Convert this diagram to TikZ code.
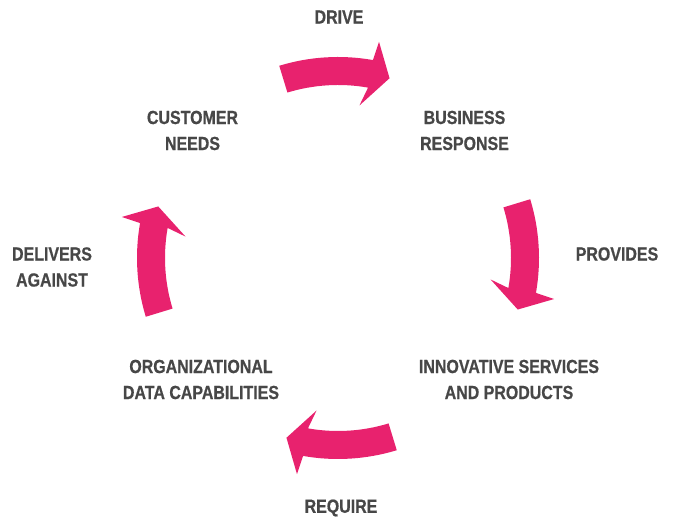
\documentclass[tikz,border=0pt]{standalone}
\usepackage{fontspec}
\newfontfamily\labelfont{Liberation Sans}[FakeStretch=0.84, FakeBold=0.6]
\definecolor{ringpink}{HTML}{E8226E}
\definecolor{labelgray}{HTML}{474747}

% one bent arrow on the ring, running clockwise from angle #1
\newcommand{\ringarrow}[1]{%
  \fill[ringpink] (#1:201) arc[start angle=#1, end angle={#1-27}, radius=201]
    -- ({#1-27.75}:220) -- ({#1-33}:187) -- ({#1-25}:154)
    -- ({#1-27}:173) arc[start angle={#1-27}, end angle=#1, radius=173] -- cycle;}

\begin{document}
\begin{tikzpicture}[x=1pt, y=1pt,
      every node/.style={font=\labelfont\bfseries\fontsize{19}{26}\selectfont,
        text=labelgray, inner sep=0pt, align=center}]
      \useasboundingbox (0,0) rectangle (675,521);
      \begin{scope}[shift={(338,263)}]
        \ringarrow{107}
        \ringarrow{17}
        \ringarrow{-73}
        \ringarrow{197}
      \end{scope}
      \node (needs) at (192.5,390.5) {CUSTOMER\\NEEDS};
      \node (response) at (464.5,390.5) {BUSINESS\\RESPONSE};
      \node (products) at (509,141.5) {INNOVATIVE SERVICES\\AND PRODUCTS};
      \node (capabilities) at (201,141.5) {ORGANIZATIONAL\\DATA CAPABILITIES};
      \node (drive) at (339,504) {DRIVE};
      \node (provides) at (617,267) {PROVIDES};
      \node (require) at (341,13) {REQUIRE};
      \node (against) at (52,254) {DELIVERS\\AGAINST};
    \end{tikzpicture}
\end{document}
